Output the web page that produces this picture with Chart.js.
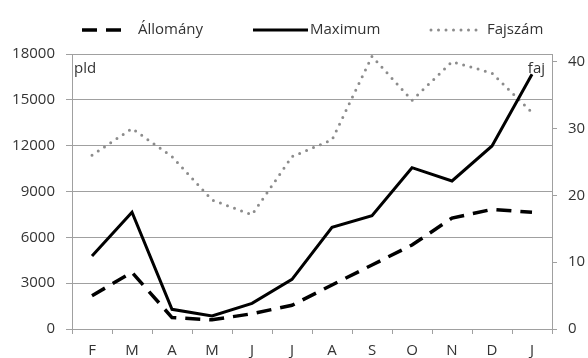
<!DOCTYPE html>
<html><head><meta charset="utf-8">
<script src="https://cdn.jsdelivr.net/npm/chart.js@4"></script>
<style>html,body{margin:0;padding:0;background:#fff}canvas{display:block}</style>
</head><body>
<canvas id="c" width="588" height="358"></canvas>
<script>
const categories = ['F','M','A','M','J','J','A','S','O','N','D','J'];
const allomany = [2180, 3710, 750, 600, 1000, 1550, 2880, 4190, 5500, 7260, 7830, 7640];
const maximum = [4780, 7640, 1290, 850, 1680, 3250, 6660, 7420, 10560, 9690, 11980, 16670];
const fajszam = [26.0, 30.0, 25.8, 19.3, 17.1, 25.8, 28.3, 40.8, 34.2, 40.0, 38.3, 32.4];
const leftTicks = [0, 3000, 6000, 9000, 12000, 15000, 18000];
const rightTicks = [0, 10, 20, 30, 40];
const seriesNames = ['Állomány', 'Maximum', 'Fajszám'];
const unitLeft = 'pld';
const unitRight = 'faj';

const FONT = '"Open Sans", sans-serif';
const textColor = '#333333';
const gridColor = '#a0a0a0';
const dotColor = '#8c8c8c';

const styles = [
  {color:'#000', width:3.5, dash:[15, 9], cap:'butt'},
  {color:'#000', width:3, dash:[], cap:'butt'},
  {color:dotColor, width:3, dash:[0, 7.5], cap:'round'}
];

const legendPlugin = {
  id:'customLegend',
  afterDraw(chart){
    const ctx = chart.ctx;
    const items = [
      {x0:82, x1:123, tx:138},
      {x0:253, x1:308, tx:310},
      {x0:431, x1:480, tx:487}
    ];
    const y = 30;
    items.forEach((it, i) => {
      const s = styles[i];
      ctx.save();
      ctx.strokeStyle = s.color;
      ctx.lineWidth = s.width;
      ctx.lineCap = s.cap;
      ctx.setLineDash(s.dash);
      ctx.beginPath();
      ctx.moveTo(it.x0, y);
      ctx.lineTo(it.x1, y);
      ctx.stroke();
      ctx.restore();
      ctx.save();
      ctx.fillStyle = textColor;
      ctx.font = '15px ' + FONT;
      ctx.textBaseline = 'middle';
      ctx.textAlign = 'left';
      ctx.fillText(seriesNames[i], it.tx, y);
      ctx.restore();
    });
    const ca = chart.chartArea;
    ctx.save();
    ctx.fillStyle = textColor;
    ctx.font = '15px ' + FONT;
    ctx.textBaseline = 'middle';
    ctx.textAlign = 'left';
    ctx.fillText(unitLeft, ca.left + 2, ca.top + 15);
    ctx.textAlign = 'right';
    ctx.fillText(unitRight, ca.right - 7, ca.top + 15);
    ctx.restore();
  }
};

const tickFont = {family: FONT, size: 15};
const plain = v => String(v);

new Chart(document.getElementById('c'), {
  type: 'line',
  data: {
    labels: categories,
    datasets: [
      {label: seriesNames[0], data: allomany, yAxisID:'y', borderColor: styles[0].color, borderWidth: styles[0].width, borderDash: styles[0].dash, borderCapStyle: styles[0].cap, pointRadius:0, tension:0, fill:false},
      {label: seriesNames[1], data: maximum, yAxisID:'y', borderColor: styles[1].color, borderWidth: styles[1].width, borderCapStyle: styles[1].cap, pointRadius:0, tension:0, fill:false},
      {label: seriesNames[2], data: fajszam, yAxisID:'y1', borderColor: styles[2].color, borderWidth: styles[2].width, borderDash: styles[2].dash, borderCapStyle: styles[2].cap, pointRadius:0, tension:0, fill:false}
    ]
  },
  options: {
    responsive: false,
    animation: false,
    devicePixelRatio: 1,
    layout: {padding: {top: 54, left: 0, right: 0, bottom: 0}},
    plugins: {legend: {display: false}, tooltip: {enabled: false}},
    scales: {
      x: {
        type: 'category',
        offset: true,
        grid: {offset: true, drawOnChartArea: false, drawTicks: true, tickLength: 5, color: gridColor, lineWidth: 1},
        border: {color: gridColor, width: 1},
        ticks: {font: tickFont, color: textColor, padding: 8, maxRotation: 0, autoSkip: false},
        afterFit(s){ s.height = 29; }
      },
      y: {
        position: 'left',
        min: 0, max: 18000,
        afterBuildTicks(s){ s.ticks = leftTicks.map(v => ({value: v})); },
        grid: {color: gridColor, tickLength: 6, lineWidth: 1},
        border: {color: gridColor, width: 1},
        ticks: {font: tickFont, color: textColor, padding: 11, callback: plain},
        afterFit(s){ s.width = 72; }
      },
      y1: {
        position: 'right',
        min: 0, max: 41.15,
        afterBuildTicks(s){ s.ticks = rightTicks.map(v => ({value: v})); },
        grid: {drawOnChartArea: false, color: gridColor, tickLength: 5, lineWidth: 1},
        border: {color: gridColor, width: 1},
        ticks: {font: tickFont, color: textColor, padding: 11, callback: plain},
        afterFit(s){ s.width = 36; }
      }
    }
  },
  plugins: [legendPlugin]
});
</script>
</body></html>
